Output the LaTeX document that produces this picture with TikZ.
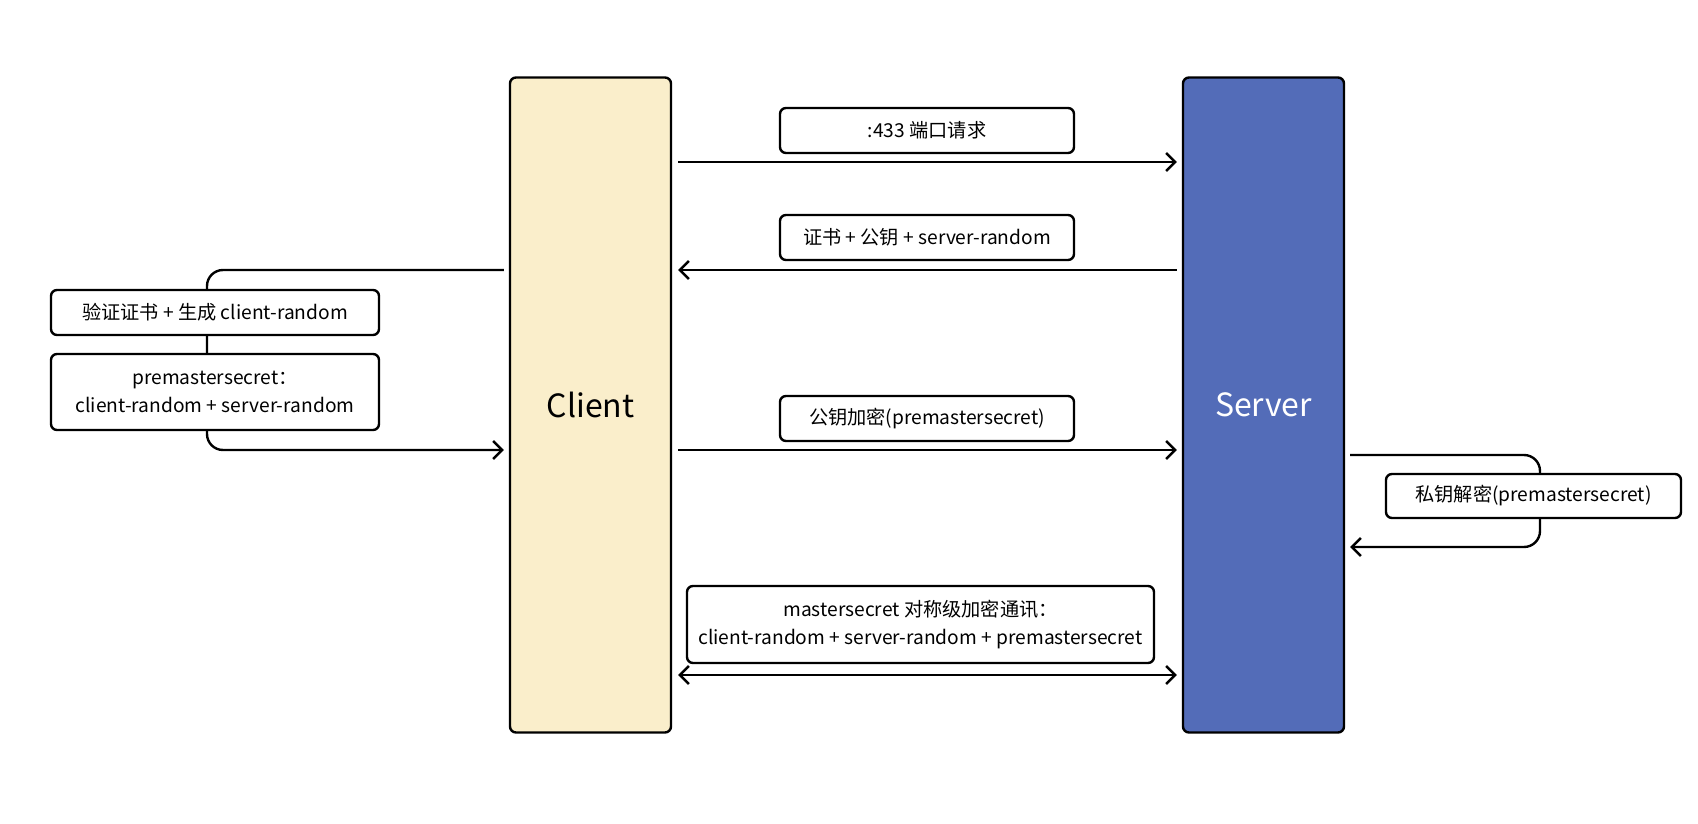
\documentclass[tikz,border=0pt]{standalone}
\usepackage{fontspec}
\setmainfont{Noto Sans CJK SC}
\usetikzlibrary{arrows.meta}
\definecolor{clientfill}{HTML}{FAEECB}
\definecolor{serverfill}{HTML}{536CB8}
\begin{document}
\begin{tikzpicture}[x=1pt,y=-1pt,
  lane/.style={draw=black, line width=2.4pt, rounded corners=6pt, minimum width=161pt, minimum height=655pt, inner sep=0pt, font=\fontsize{32}{38}\selectfont},
  lbl/.style={draw=black, fill=white, line width=2.4pt, rounded corners=6pt, inner sep=0pt, align=center, font=\fontsize{19.2}{28}\selectfont},
  arr/.style={line width=2.4pt, -{Straight Barb[length=9pt,width=18pt,line width=2.4pt]}},
  darr/.style={line width=2.4pt, {Straight Barb[length=9pt,width=18pt,line width=2.4pt]}-{Straight Barb[length=9pt,width=18pt,line width=2.4pt]}}
]
\useasboundingbox (0,0) rectangle (1698,824);
\fill[white] (0,0) rectangle (1698,824);

\node[lane, fill=clientfill] (client) at (590.5,405) {Client};
\node[lane, fill=serverfill, text=white] (server) at (1263.5,405) {Server};

% row coordinates
\coordinate (r1) at (0,162);
\coordinate (r2) at (0,270);
\coordinate (r3) at (0,450);
\coordinate (r4) at (0,675);

\draw[arr, shorten <=6pt, shorten >=5pt] (client.east |- r1) -- (server.west |- r1);
\draw[arr, shorten <=5pt, shorten >=6pt] (server.west |- r2) -- (client.east |- r2);
\draw[arr, shorten <=6pt, shorten >=5pt] (client.east |- r3) -- (server.west |- r3);
\draw[darr, shorten <=6pt, shorten >=5pt] (client.east |- r4) -- (server.west |- r4);

% left loop
\coordinate (lt) at (207,270);
\coordinate (lb) at (207,450);
\draw[arr, rounded corners=16pt, shorten <=5pt, shorten >=5pt] (client.west |- lt) -- (lt) -- (lb) -- (client.west |- lb);

% right loop
\coordinate (rt) at (1540,455);
\coordinate (rb) at (1540,547);
\draw[arr, rounded corners=16pt, shorten <=5pt, shorten >=5pt] (server.east |- rt) -- (rt) -- (rb) -- (server.east |- rb);

\node[lbl, minimum width=294pt, minimum height=45pt] (b1) at (927,130.5) {:433 端口请求};
\node[lbl, minimum width=294pt, minimum height=45pt] (b2) at (927,237.5) {证书 + 公钥 + server-random};
\node[lbl, minimum width=294pt, minimum height=45pt] (b3) at (927,418.5) {公钥加密(premastersecret)};
\node[lbl, minimum width=467pt, minimum height=77pt] (b4) at (920.5,624.5) {mastersecret 对称级加密通讯：\\client-random + server-random + premastersecret};
\node[lbl, minimum width=328pt, minimum height=45pt] (l1) at (215,312.5) {验证证书 + 生成 client-random};
\node[lbl, minimum width=328pt, minimum height=76pt] (l2) at (215,392) {premastersecret：\\client-random + server-random};
\node[lbl, minimum width=295pt, minimum height=44pt] (rr) at (1533.5,496) {私钥解密(premastersecret)};
\end{tikzpicture}
\end{document}
